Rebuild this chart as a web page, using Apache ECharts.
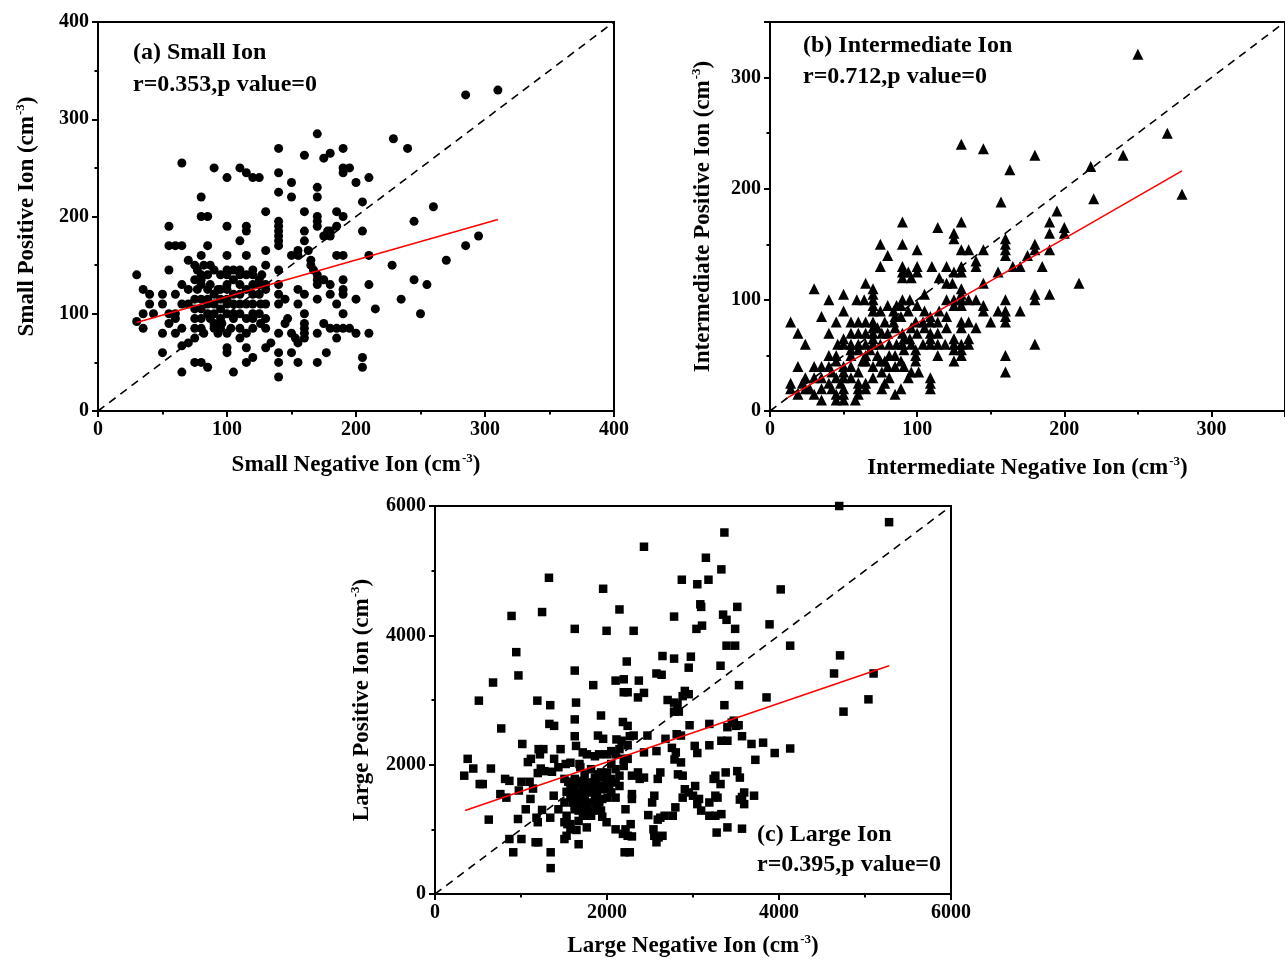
<!DOCTYPE html>
<html><head><meta charset="utf-8">
<script src="https://cdn.jsdelivr.net/npm/echarts@6/dist/echarts.min.js"></script>
<style>html,body{margin:0;padding:0;background:#fff}#c{width:1285px;height:960px}</style>
</head><body><div id="c"></div>
<script>
// ---- Data ----
const smallIon = [[285,325],[310,330],[170,285],[229,280],[140,270],[160,263],[175,260],[180,265],[240,270],[65,255],[190,270],[90,250],[110,250],[115,245],[120,240],[125,240],[100,240],[140,245],[190,245],[190,250],[195,250],[150,235],[200,235],[210,240],[170,230],[140,225],[150,220],[170,220],[80,220],[205,215],[260,210],[130,205],[160,205],[185,205],[190,200],[170,200],[170,195],[170,190],[80,200],[85,200],[245,195],[140,195],[140,190],[140,185],[140,180],[140,175],[140,170],[115,190],[115,185],[100,190],[55,190],[185,190],[178,185],[180,185],[175,180],[180,180],[160,185],[160,175],[205,185],[55,170],[60,170],[65,170],[85,170],[110,175],[295,180],[155,165],[155,160],[150,160],[163,165],[285,170],[80,160],[100,160],[115,160],[130,165],[185,160],[190,160],[210,160],[270,155],[55,145],[70,155],[75,150],[82,150],[77,145],[87,150],[90,145],[100,145],[100,140],[110,140],[120,145],[127,140],[130,150],[140,145],[165,150],[170,140],[170,135],[165,155],[167,145],[228,150],[175,135],[170,130],[190,135],[245,135],[255,130],[210,130],[30,140],[35,125],[40,120],[35,100],[43,100],[50,120],[60,120],[65,130],[70,125],[75,135],[77,125],[80,135],[80,130],[85,125],[87,130],[93,125],[95,125],[100,130],[100,125],[105,135],[110,130],[115,140],[120,140],[125,135],[130,130],[130,125],[115,125],[120,120],[140,130],[140,120],[145,115],[155,125],[160,120],[155,110],[170,115],[180,130],[180,120],[185,110],[190,120],[190,125],[200,115],[235,115],[215,105],[250,100],[190,100],[30,92],[35,85],[40,110],[50,110],[50,80],[55,90],[60,95],[60,80],[65,85],[65,67],[70,70],[75,105],[75,95],[75,85],[75,75],[80,105],[80,95],[80,85],[82,80],[85,100],[87,95],[90,85],[93,80],[95,85],[96,90],[100,110],[100,100],[100,80],[103,85],[100,60],[105,110],[105,95],[110,100],[110,85],[110,75],[115,110],[115,95],[115,80],[120,85],[115,65],[120,55],[115,50],[126,110],[126,90],[130,95],[130,85],[130,65],[134,70],[140,110],[140,80],[140,60],[140,50],[140,35],[145,90],[147,95],[150,80],[153,75],[155,70],[150,60],[155,50],[160,100],[160,90],[160,85],[160,80],[160,75],[170,80],[170,50],[177,60],[175,90],[180,85],[185,85],[185,75],[190,85],[195,85],[200,80],[210,80],[205,55],[205,45],[65,40],[85,45],[105,40],[50,60],[75,50],[80,50],[100,65],[90,110],[95,105],[85,110],[90,100],[95,95],[105,100],[120,100],[125,100],[120,110],[110,110],[105,120],[95,115],[90,120],[85,115],[100,115],[110,120],[125,120],[130,110],[120,95],[90,90],[80,115],[75,115],[70,110],[65,110],[60,100],[55,100],[120,130],[125,130],[110,145],[105,145],[95,140],[85,140],[80,140]];

const intermediateIon = [[250,321],[130,240],[145,236],[180,230],[240,230],[218,220],[163,217],[270,250],[280,195],[220,191],[157,188],[195,180],[190,170],[130,170],[90,170],[114,165],[200,165],[200,160],[190,160],[125,160],[125,155],[160,155],[160,150],[160,145],[160,140],[180,150],[180,145],[190,145],[130,145],[135,145],[145,145],[75,150],[100,145],[90,150],[80,140],[175,140],[140,135],[140,130],[75,130],[90,130],[90,125],[90,120],[100,130],[100,125],[110,130],[120,130],[130,130],[130,125],[125,125],[94,125],[96,120],[115,120],[120,115],[155,125],[165,130],[170,130],[185,130],[210,115],[190,105],[180,105],[180,100],[160,100],[124,115],[130,110],[130,105],[145,115],[65,115],[70,110],[70,105],[30,110],[50,105],[40,100],[59,100],[64,100],[70,100],[70,95],[70,90],[90,100],[105,105],[120,100],[125,100],[130,100],[135,100],[140,100],[125,95],[130,95],[145,95],[145,90],[155,90],[160,90],[160,85],[160,80],[170,90],[150,80],[140,75],[135,80],[130,80],[120,85],[114,80],[109,85],[109,80],[104,80],[99,80],[96,75],[89,85],[84,80],[84,90],[86,95],[94,90],[89,95],[85,85],[78,80],[73,75],[76,70],[35,85],[45,80],[50,90],[40,70],[19,70],[14,80],[24,60],[55,80],[60,80],[65,80],[70,80],[70,75],[70,70],[70,65],[55,70],[50,65],[46,60],[50,60],[55,60],[60,60],[65,60],[70,60],[75,60],[81,60],[86,60],[91,65],[96,60],[99,55],[104,60],[109,65],[109,60],[114,60],[119,60],[125,60],[130,60],[109,70],[114,70],[125,65],[130,75],[135,60],[125,55],[130,55],[130,50],[135,65],[114,50],[125,45],[180,60],[160,50],[160,35],[99,45],[99,50],[109,30],[109,25],[109,20],[91,40],[96,35],[101,35],[94,30],[89,20],[85,15],[78,25],[76,35],[78,45],[73,50],[81,50],[68,55],[65,50],[63,45],[70,40],[60,35],[55,30],[60,25],[65,25],[60,20],[65,20],[60,15],[58,10],[50,40],[50,35],[50,30],[48,25],[50,20],[50,15],[50,10],[45,45],[42,35],[45,30],[40,25],[42,20],[45,15],[45,10],[40,50],[35,40],[35,30],[35,20],[35,10],[30,40],[30,30],[27,20],[30,15],[19,40],[24,30],[22,25],[24,20],[14,25],[19,15],[14,20],[55,40],[65,45],[70,30],[76,20],[81,30],[85,40],[89,45],[91,55],[60,55],[55,50],[95,100],[100,95],[105,90],[80,95],[75,90],[85,75],[80,70],[90,70],[95,65],[100,70],[105,75],[115,90],[120,75],[60,70],[65,70],[55,55],[45,50],[40,40],[85,50],[90,60],[80,40],[75,45]];

const largeIon = [[4700,6000],[5280,5750],[3365,5590],[2430,5370],[3150,5200],[3330,5020],[1325,4890],[2870,4860],[3180,4860],[3050,4790],[1955,4720],[4020,4710],[3085,4480],[3095,4440],[3515,4440],[2145,4400],[1245,4360],[890,4300],[2780,4290],[3350,4320],[3390,4240],[3890,4170],[3105,4150],[3040,4100],[1625,4100],[1995,4070],[2310,4070],[3490,4100],[3390,3840],[3490,3840],[4130,3840],[945,3740],[2645,3680],[2780,3640],[2975,3670],[2230,3595],[1625,3455],[3320,3530],[2950,3500],[2575,3410],[2635,3390],[970,3380],[4640,3410],[5100,3410],[2195,3320],[2370,3300],[2100,3300],[4710,3690],[675,3270],[1840,3230],[3535,3230],[2195,3120],[2240,3120],[2430,3110],[2360,3040],[2905,3140],[2950,3090],[2880,3060],[510,2990],[1190,2990],[1640,2960],[2705,3000],[2780,2960],[2820,2940],[5040,3010],[3855,3040],[1340,2920],[3365,2920],[2780,2820],[2835,2820],[4750,2820],[1930,2760],[1625,2700],[770,2560],[2185,2660],[2240,2600],[1330,2630],[1385,2600],[3190,2630],[2960,2610],[3400,2580],[3475,2680],[3500,2600],[3450,2650],[3530,2610],[1625,2440],[1895,2450],[1955,2400],[2110,2390],[2170,2370],[2310,2450],[2265,2440],[2470,2450],[2680,2400],[2810,2470],[2860,2450],[3330,2370],[3400,2370],[3570,2440],[3680,2320],[3815,2340],[1015,2320],[1205,2240],[1260,2240],[1220,2160],[1460,2240],[1640,2290],[2240,2300],[2145,2240],[2430,2190],[2575,2210],[2755,2260],[2800,2190],[3020,2290],[3050,2180],[3190,2300],[3950,2180],[4130,2250],[380,2090],[1115,2090],[1080,2040],[1385,2090],[1718,2190],[1766,2160],[1860,2130],[1908,2160],[2000,2160],[2050,2210],[2100,2160],[2195,2090],[2240,2090],[3725,2075],[445,1940],[650,1940],[340,1830],[1230,1940],[1270,1900],[1195,1870],[1360,1890],[1435,1960],[1520,2010],[1575,2030],[1680,2010],[1690,1960],[520,1700],[555,1700],[815,1780],[865,1750],[760,1545],[830,1490],[975,1600],[1005,1735],[1100,1735],[1140,1630],[1110,1470],[1055,1310],[1180,1180],[1195,1110],[1245,1300],[625,1150],[965,1160],[1340,1180],[1380,1520],[1530,1580],[1575,1500],[1600,1415],[1670,1470],[1720,1390],[1625,1310],[1740,1520],[1790,1620],[1815,1415],[1765,1310],[1835,1290],[1885,1570],[1910,1670],[1955,1620],[1945,1470],[2005,1490],[1860,1750],[1815,1725],[2050,1780],[2100,1725],[2145,1670],[1550,1735],[1505,1780],[1540,1080],[1575,1000],[1645,990],[1670,770],[1505,850],[1945,1195],[1995,1110],[2100,1000],[2185,930],[2240,900],[2290,890],[2205,645],[2265,645],[2215,1000],[2275,1080],[2290,1470],[2290,1545],[2215,1310],[2480,1220],[2525,1415],[2550,1520],[2540,1000],[2550,900],[2575,800],[2600,875],[2645,900],[2590,1150],[2620,1180],[2670,1210],[2590,1780],[2620,1880],[2765,1210],[2795,1340],[2825,1850],[2880,1830],[2905,1620],[2950,1570],[3000,1520],[3025,1670],[3070,1470],[3050,1390],[3190,1415],[3095,1290],[3190,1210],[3260,1520],[3285,1490],[3260,1210],[3330,1235],[3240,1780],[3260,1830],[3320,1700],[3380,1880],[3275,950],[3400,1030],[3570,1010],[3515,1900],[3545,1800],[3545,1460],[3570,1500],[3595,1570],[3595,1390],[3710,1520],[2880,1490],[2785,2080],[2860,2035],[1813,1670],[1718,1620],[1623,1670],[1530,1210],[1505,1110],[1575,1080],[1670,1130],[1765,1030],[1720,1210],[1670,1290],[1435,1310],[1505,1415],[2025,1670],[2050,1570],[2100,1490],[2145,1830],[2100,1930],[2000,1880],[1930,1880],[2195,1980],[2050,2010],[2290,1830],[2380,1780],[2430,1800],[2360,1880],[1740,1850],[1815,1930],[1910,1850],[1955,1800],[1860,1800],[1625,1780],[1670,1725],[1575,1670],[1600,1570],[1645,1545],[1695,1570],[1740,1440],[1645,1440],[1625,1360],[1695,1340],[1740,1260],[1815,1210],[1885,1340],[1930,1290],[1910,1415],[1860,1490],[1815,1570],[1765,1670],[1718,1750],[2000,1725],[865,850],[1005,850],[910,645],[1170,800],[1200,800],[1345,645],[1345,400],[1530,900]];

const diagA = [[0,0],[400,400]];
const fitA = [[30,91],[310,197]];
const diagB = [[0,0],[350,350]];
const fitB = [[12,12],[280,216]];
const diagC = [[0,0],[6000,6000]];
const fitC = [[350,1290],[5280,3530]];

const titles = {
  a: ['(a) Small Ion', 'r=0.353,p value=0'],
  b: ['(b) Intermediate Ion', 'r=0.712,p value=0'],
  c: ['(c) Large Ion', 'r=0.395,p value=0']
};
const axisNames = {
  ax: 'Small Negative Ion (cm', ay: 'Small Positive Ion (cm',
  bx: 'Intermediate Negative Ion (cm', by: 'Intermediate Positive Ion (cm',
  cx: 'Large Negative Ion (cm', cy: 'Large Positive Ion (cm'
};
const unitSup = '-3';

// ---- Chart ----
const FONT = '"Liberation Serif","Times New Roman",serif';
const chart = echarts.init(document.getElementById('c'), null, {renderer: 'canvas'});

function nameRich(base) { return '{t|' + base + '}{s|' + unitSup + '}{t|)}'; }
const nameStyle = {
  rich: {
    t: {fontFamily: FONT, fontWeight: 'bold', fontSize: 23, color: '#000', lineHeight: 26},
    s: {fontFamily: FONT, fontWeight: 'bold', fontSize: 13, color: '#000', verticalAlign: 'top', lineHeight: 26, padding: [0, 0, 11, 1]}
  }
};
function mkAxis(gridIndex, max, interval, name, gap) {
  return {
    type: 'value', gridIndex, min: 0, max, interval,
    name: nameRich(name), nameLocation: 'middle', nameGap: gap, nameTextStyle: nameStyle,
    axisLine: {show: true, onZero: false, lineStyle: {color: '#000', width: 2}},
    axisTick: {show: true, length: 6, lineStyle: {color: '#000', width: 2}},
    minorTick: {show: true, splitNumber: 2, length: 3.5, lineStyle: {color: '#000', width: 2}},
    splitLine: {show: false}, minorSplitLine: {show: false},
    axisLabel: {fontFamily: FONT, fontWeight: 'bold', fontSize: 20, color: '#000', margin: 9,
      showMaxLabel: max % interval === 0, formatter: v => String(v)}
  };
}
const gridBase = {show: true, borderColor: '#000', borderWidth: 2, containLabel: false};

function scatter(idx, data, symbol, size) {
  return {type: 'scatter', xAxisIndex: idx, yAxisIndex: idx, data, symbol, symbolSize: size,
    itemStyle: {color: '#000', opacity: 1}, silent: true, z: 2};
}
function line(idx, data, color, dashed) {
  return {type: 'line', xAxisIndex: idx, yAxisIndex: idx, data, symbol: 'none', silent: true, z: 3,
    lineStyle: {color, width: 1.6, type: dashed ? [8, 6] : 'solid'}};
}
function label(x, y, text) {
  return {type: 'text', left: x, top: y, silent: true,
    style: {text, font: 'bold 24px ' + FONT, fill: '#000'}};
}

chart.setOption({
  animation: false,
  backgroundColor: '#fff',
  grid: [
    Object.assign({left: 98, top: 22, width: 516, height: 389}, gridBase),
    Object.assign({left: 770, top: 22, width: 520, height: 389}, gridBase),
    Object.assign({left: 435, top: 506, width: 516, height: 388}, gridBase)
  ],
  xAxis: [
    mkAxis(0, 400, 100, axisNames.ax, 41),
    mkAxis(1, 350, 100, axisNames.bx, 44),
    mkAxis(2, 6000, 2000, axisNames.cx, 39)
  ],
  yAxis: [
    mkAxis(0, 400, 100, axisNames.ay, 58),
    mkAxis(1, 350, 100, axisNames.by, 54),
    mkAxis(2, 6000, 2000, axisNames.cy, 60)
  ],
  series: [
    scatter(0, smallIon, 'circle', 9),
    scatter(1, intermediateIon, 'triangle', 11),
    scatter(2, largeIon, 'rect', 8.5),
    line(0, diagA, '#000', true), line(0, fitA, '#ff0000', false),
    line(1, diagB, '#000', true), line(1, fitB, '#ff0000', false),
    line(2, diagC, '#000', true), line(2, fitC, '#ff0000', false)
  ],
  graphic: [
    label(133, 41, titles.a[0]), label(133, 73, titles.a[1]),
    label(803, 34, titles.b[0]), label(803, 65, titles.b[1]),
    label(757, 823, titles.c[0]), label(757, 853, titles.c[1])
  ]
});
</script></body></html>
